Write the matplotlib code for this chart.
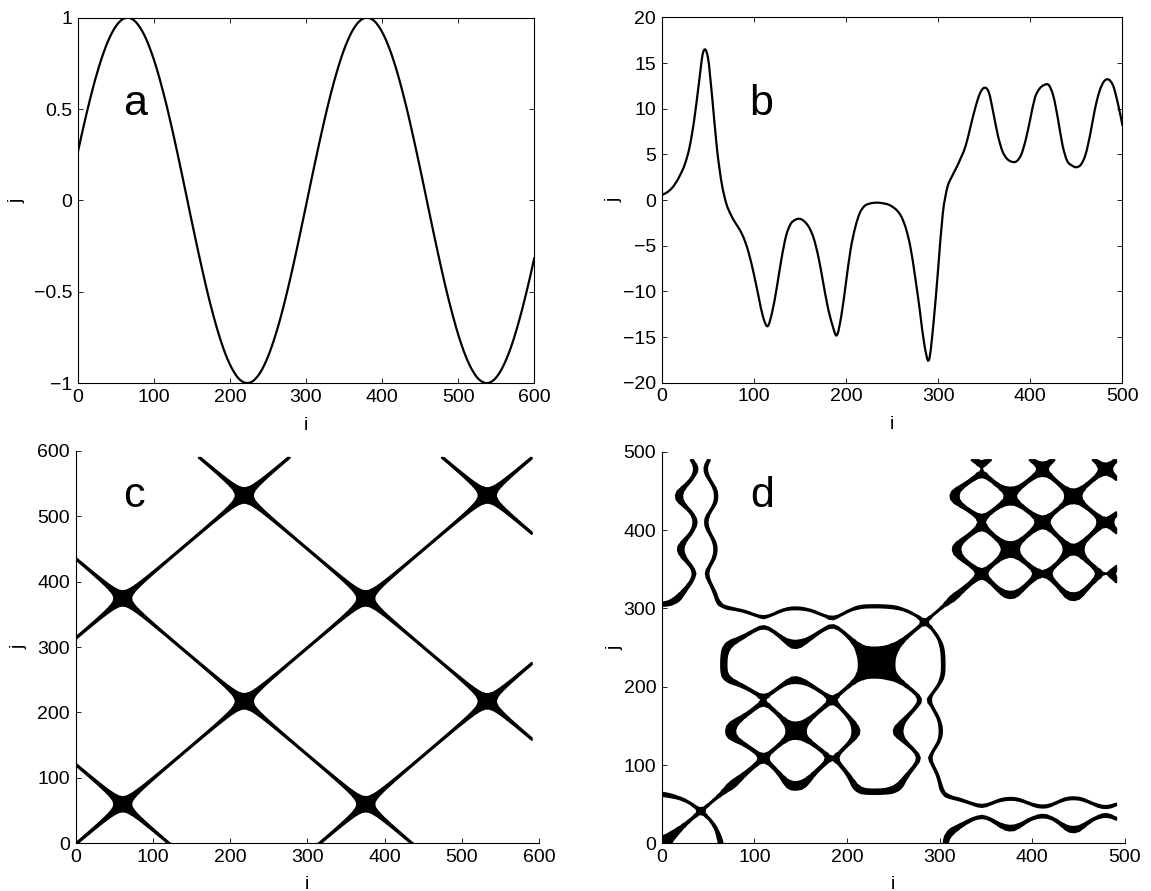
import numpy as np
import matplotlib
matplotlib.use("Agg")
import matplotlib.pyplot as plt
from matplotlib.path import Path
from matplotlib.patches import PathPatch
from matplotlib.ticker import FuncFormatter

plt.rcParams['font.family'] = ['Liberation Sans', 'DejaVu Sans']
plt.rcParams['font.size'] = 14

# serie a (senoidal), muestreada cada 5 pasos, i = 0..600
a_i = np.arange(0, 601, 5)
a_vals = [0.260, 0.355, 0.446, 0.533, 0.615, 0.690, 0.759, 0.820, 0.873, 0.917,
          0.952, 0.978, 0.994, 1.000, 0.996, 0.982, 0.958, 0.925, 0.883, 0.831,
          0.772, 0.705, 0.630, 0.550, 0.464, 0.373, 0.279, 0.182, 0.083, -0.017,
          -0.117, -0.215, -0.311, -0.404, -0.494, -0.578, -0.656, -0.728, -0.793, -0.850,
          -0.898, -0.937, -0.968, -0.988, -0.998, -0.999, -0.990, -0.970, -0.942, -0.903,
          -0.856, -0.800, -0.736, -0.666, -0.588, -0.504, -0.416, -0.323, -0.227, -0.128,
          -0.029, 0.071, 0.170, 0.267, 0.362, 0.453, 0.540, 0.621, 0.696, 0.764,
          0.825, 0.877, 0.921, 0.955, 0.980, 0.995, 1.000, 0.995, 0.981, 0.956,
          0.922, 0.879, 0.827, 0.767, 0.699, 0.624, 0.543, 0.457, 0.365, 0.271,
          0.174, 0.075, -0.025, -0.125, -0.223, -0.319, -0.412, -0.501, -0.584, -0.662,
          -0.734, -0.798, -0.854, -0.902, -0.940, -0.970, -0.989, -0.999, -0.999, -0.989,
          -0.969, -0.939, -0.900, -0.852, -0.796, -0.731, -0.659, -0.581, -0.497, -0.409,
          -0.315]

# serie b, muestreada cada 5 pasos, i = 0..500
b_i = np.arange(0, 501, 5)
b_vals = [0.55, 0.8, 1.2, 1.85, 2.75, 3.9, 5.7, 8.6, 12.5, 16.2,
          15.7, 11.0, 5.6, 1.9, -0.35, -1.6, -2.5, -3.3, -4.4, -6.0,
          -8.1, -10.5, -12.8, -13.8, -12.2, -9.5, -6.4, -3.9, -2.6, -2.15,
          -2.05, -2.35, -3.0, -4.2, -6.2, -8.9, -11.6, -13.6, -14.8, -12.6,
          -9.0, -5.4, -3.0, -1.4, -0.65, -0.4, -0.3, -0.28, -0.35, -0.45,
          -0.7, -1.1, -1.8, -3.1, -5.2, -8.4, -12.0, -15.8, -17.5, -13.4,
          -7.5, -1.5, 1.4, 2.6, 3.6, 4.7, 6.0, 8.0, 10.0, 11.6,
          12.3, 11.8, 9.5, 7.0, 5.3, 4.5, 4.2, 4.25, 4.95, 6.6,
          8.9, 11.2, 12.2, 12.6, 12.6, 11.4, 8.9, 6.0, 4.3, 3.8,
          3.6, 3.9, 5.0, 7.2, 9.9, 11.9, 13.0, 13.2, 12.5, 10.6,
          8.2]

# umbrales de recurrencia
eps_a = 0.025
eps_b = 1.0


def fmt(v, pos):
    return f'{v:g}'.replace('-', '\u2212')


def smooth_line(ax, x, y, lw=1.6):
    """Curva suave (Catmull-Rom en Bezier) que pasa por las muestras"""
    p = np.column_stack([x, y]).astype(float)
    n = len(p)
    verts = [p[0]]
    codes = [Path.MOVETO]
    for k in range(n - 1):
        p0 = p[k - 1] if k > 0 else p[k]
        p1, p2 = p[k], p[k + 1]
        p3 = p[k + 2] if k + 2 < n else p[k + 1]
        verts += [p1 + (p2 - p0) / 6, p2 - (p3 - p1) / 6, p2]
        codes += [Path.CURVE4] * 3
    ax.add_patch(PathPatch(Path(verts, codes), facecolor='none',
                           edgecolor='black', lw=lw, capstyle='round'))


def recurrence(ax, t, x, eps):
    """Grafico de recurrencia |x_i - x_j| < eps"""
    # media movil de 3 muestras (modo 'valid') antes de comparar
    xs = np.convolve(np.asarray(x, dtype=float), np.ones(3) / 3, mode='valid')
    tt = t[:len(xs)]
    d = xs[None, :] - xs[:, None]
    cs = ax.contourf(tt, tt, d, levels=[-eps, eps], colors='black',
                     antialiased=True)
    # grosor del punto al dibujar la matriz
    cs.set_edgecolor('black')
    cs.set_linewidth(1.4)


fig = plt.figure(figsize=(11.51, 8.91), dpi=100)
ax1 = fig.add_axes([0.0675, 0.5701, 0.3967, 0.4100])
ax2 = fig.add_axes([0.5749, 0.5704, 0.4003, 0.4100])
ax3 = fig.add_axes([0.0656, 0.0535, 0.4027, 0.4406])
ax4 = fig.add_axes([0.5749, 0.0535, 0.4025, 0.4395])

# Serie a
smooth_line(ax1, a_i, a_vals)
ax1.set_xlim(0, 600)
ax1.set_ylim(-1, 1)
ax1.set_xticks(range(0, 601, 100))
ax1.set_yticks([-1, -0.5, 0, 0.5, 1])
ax1.text(76, 0.47, 'a', fontsize=31, ha='center', va='baseline')

# Serie b
smooth_line(ax2, b_i, b_vals)
ax2.set_xlim(0, 500)
ax2.set_ylim(-20, 20)
ax2.set_xticks(range(0, 501, 100))
ax2.set_yticks(range(-20, 21, 5))
ax2.text(108, 9.3, 'b', fontsize=31, ha='center', va='baseline')

# Recurrencias
recurrence(ax3, a_i, a_vals, eps_a)
ax3.set_xlim(0, 600)
ax3.set_ylim(0, 600)
ax3.set_xticks(range(0, 601, 100))
ax3.set_yticks(range(0, 601, 100))
ax3.text(76, 514, 'c', fontsize=31, ha='center', va='baseline')

recurrence(ax4, b_i, b_vals, eps_b)
ax4.set_xlim(0, 500)
ax4.set_ylim(0, 500)
ax4.set_xticks(range(0, 501, 100))
ax4.set_yticks(range(0, 501, 100))
ax4.text(108, 430, 'd', fontsize=31, ha='center', va='baseline')

for ax in (ax1, ax2):
    ax.tick_params(direction='in', top=True, right=True, length=3.5,
                   width=0.6, labelsize=14, pad=4)
for ax in (ax3, ax4):
    ax.spines['top'].set_visible(False)
    ax.spines['right'].set_visible(False)
    ax.tick_params(direction='in', length=3.5, width=0.6, labelsize=14, pad=4)

for ax, lpx, lpy in ((ax1, 8, 6), (ax2, 8, 0), (ax3, 7, 7), (ax4, 7, 0)):
    for s in ax.spines.values():
        s.set_linewidth(0.8)
    ax.xaxis.set_major_formatter(FuncFormatter(fmt))
    ax.yaxis.set_major_formatter(FuncFormatter(fmt))
    ax.set_xlabel('i', fontsize=14, labelpad=lpx)
    ax.set_ylabel('j', fontsize=14, labelpad=lpy)

fig.savefig('out.png', dpi=100)
